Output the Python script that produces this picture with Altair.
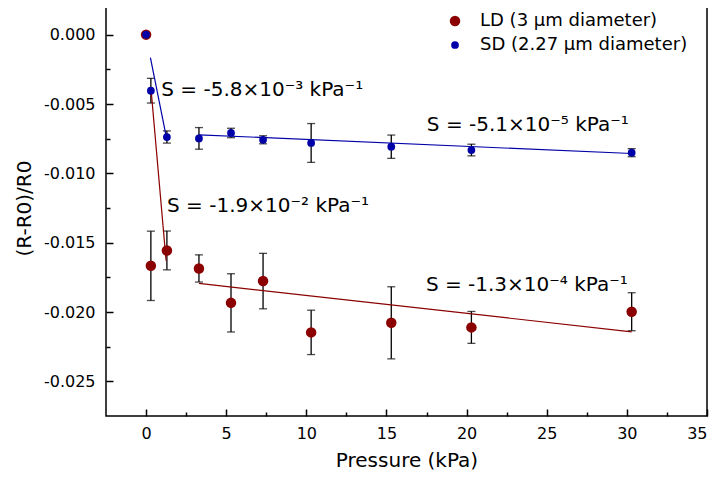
import altair as alt
import pandas as pd

# ---- data ----
pressure = [0, 0.3, 1.3, 3.3, 5.3, 7.3, 10.3, 15.3, 20.3, 30.3]
ld_val = [0, -0.01667, -0.01556, -0.01686, -0.01934, -0.01777, -0.02147, -0.02078, -0.02111, -0.01998]
ld_err = [0, 0.0025, 0.0014, 0.00098, 0.0021, 0.0020, 0.0016, 0.0026, 0.00115, 0.00137]
sd_val = [0, -0.00404, -0.00738, -0.00748, -0.00709, -0.00758, -0.00781, -0.00808, -0.00832, -0.00851]
sd_err = [0, 0.00089, 0.00044, 0.00078, 0.00034, 0.00029, 0.0014, 0.00084, 0.00042, 0.00029]

series_names = ["LD (3 µm diameter)", "SD (2.27 µm diameter)"]

# fit line endpoints (segment 1 and segment 2 for each series)
ld_fit_x = [[0.3, 1.25], [3.3, 30.3]]
ld_fit_y = [[-0.0038, -0.0163], [-0.01794, -0.02143]]
sd_fit_x = [[0.27, 1.25], [3.3, 30.3]]
sd_fit_y = [[-0.00166, -0.0073], [-0.00722, -0.00857]]

ann_text = ["S = -5.8×10⁻³ kPa⁻¹", "S = -5.1×10⁻⁵ kPa⁻¹",
            "S = -1.9×10⁻² kPa⁻¹", "S = -1.3×10⁻⁴ kPa⁻¹"]
ann_x = [0.95, 17.52, 1.31, 17.46]
ann_y = [-0.00442, -0.00693, -0.01281, -0.01847]

x_major = [0, 5, 10, 15, 20, 25, 30, 35]
x_minor = [2.5, 7.5, 12.5, 17.5, 22.5, 27.5, 32.5]
y_major = [0.0, -0.005, -0.010, -0.015, -0.020, -0.025]
y_minor = [-0.0025, -0.0075, -0.0125, -0.0175, -0.0225]

RED = "#8B0000"
BLUE = "#0000A8"
FONT = "DejaVu Sans"

# ---- tables ----
rows = []
for name, vals, errs in [(series_names[0], ld_val, ld_err), (series_names[1], sd_val, sd_err)]:
    for p, v, e in zip(pressure, vals, errs):
        rows.append({"P": p, "V": v, "lo": v - e, "hi": v + e, "series": name})
pts = pd.DataFrame(rows)

def fit_df(xs, ys):
    r = []
    for i, (sx, sy) in enumerate(zip(xs, ys)):
        for a, b in zip(sx, sy):
            r.append({"P": a, "V": b, "seg": i})
    return pd.DataFrame(r)

ld_fit = fit_df(ld_fit_x, ld_fit_y)
sd_fit = fit_df(sd_fit_x, sd_fit_y)
ann = pd.DataFrame({"P": ann_x, "V": ann_y, "label": ann_text})

xs = alt.Scale(domain=[-2.5, 35], nice=False, zero=False)
ys = alt.Scale(domain=[-0.0275, 0.0025], nice=False, zero=False)

label_expr = "replace(format(datum.value, '.3f'), '\u2212', '-')"

x_major_axis = alt.Axis(values=x_major, orient="bottom", offset=-7, tickSize=7, tickWidth=1.5,
                        tickColor="black", domain=False, grid=False, labelPadding=9,
                        labelFont=FONT, labelFontSize=16, labelColor="black",
                        title="Pressure (kPa)", titleFont=FONT, titleFontSize=20,
                        titleFontWeight="normal", titleColor="black", titlePadding=9)
y_major_axis = alt.Axis(values=y_major, orient="left", offset=-7, tickSize=7, tickWidth=1.5,
                        tickColor="black", domain=False, grid=False, labelPadding=11,
                        labelFont=FONT, labelFontSize=16, labelColor="black",
                        labelExpr=label_expr,
                        title="(R-R0)/R0", titleFont=FONT, titleFontSize=20,
                        titleFontWeight="normal", titleColor="black", titlePadding=9)
x_minor_axis = alt.Axis(values=x_minor, orient="bottom", offset=-4, tickSize=4, tickWidth=1.5,
                        tickColor="black", domain=False, grid=False, labels=False, title=None)
y_minor_axis = alt.Axis(values=y_minor, orient="left", offset=-4, tickSize=4, tickWidth=1.5,
                        tickColor="black", domain=False, grid=False, labels=False, title=None)

legend = alt.Legend(orient="none", legendX=340, legendY=12, title=None,
                    labelFont=FONT, labelFontSize=18, labelColor="black", labelLimit=400,
                    labelOffset=16, rowPadding=6, padding=0, symbolType="circle",
                    symbolStrokeWidth=0, symbolOpacity=1)

minor = alt.Chart(pts).mark_point(opacity=0).encode(
    x=alt.X("P:Q", scale=xs, axis=x_minor_axis),
    y=alt.Y("V:Q", scale=ys, axis=y_minor_axis),
)

bars = alt.Chart(pts).mark_rule(color="black", strokeWidth=1.3).encode(
    x=alt.X("P:Q", scale=xs, axis=None),
    y=alt.Y("lo:Q", scale=ys, axis=None),
    y2="hi:Q",
)
cap_lo = alt.Chart(pts).mark_tick(color="black", orient="horizontal", size=8, thickness=1.3).encode(
    x=alt.X("P:Q", scale=xs, axis=None),
    y=alt.Y("lo:Q", scale=ys, axis=None),
)
cap_hi = alt.Chart(pts).mark_tick(color="black", orient="horizontal", size=8, thickness=1.3).encode(
    x=alt.X("P:Q", scale=xs, axis=None),
    y=alt.Y("hi:Q", scale=ys, axis=None),
)

ld_lines = alt.Chart(ld_fit).mark_line(color=RED, strokeWidth=1.2).encode(
    x=alt.X("P:Q", scale=xs, axis=None),
    y=alt.Y("V:Q", scale=ys, axis=None),
    detail="seg:N",
)
sd_lines = alt.Chart(sd_fit).mark_line(color=BLUE, strokeWidth=1.2).encode(
    x=alt.X("P:Q", scale=xs, axis=None),
    y=alt.Y("V:Q", scale=ys, axis=None),
    detail="seg:N",
)

points = alt.Chart(pts).mark_circle(opacity=1).encode(
    x=alt.X("P:Q", scale=xs, axis=x_major_axis),
    y=alt.Y("V:Q", scale=ys, axis=y_major_axis),
    color=alt.Color("series:N", scale=alt.Scale(domain=series_names, range=[RED, BLUE]), legend=legend),
    size=alt.Size("series:N", scale=alt.Scale(domain=series_names, range=[110, 60]), legend=legend),
    order=alt.Order("series:N"),
)

texts = alt.Chart(ann).mark_text(align="left", baseline="alphabetic", font=FONT,
                                 fontSize=20, color="black").encode(
    x=alt.X("P:Q", scale=xs, axis=None),
    y=alt.Y("V:Q", scale=ys, axis=None),
    text="label:N",
)

chart = alt.layer(minor, bars, cap_lo, cap_hi, ld_lines, sd_lines, points, texts).resolve_axis(
    x="independent", y="independent"
).properties(
    width=601, height=416,
    autosize=alt.AutoSizeParams(type="none"),
    padding={"left": 98, "top": -8, "right": 2, "bottom": 55},
).configure_view(
    stroke="black", strokeWidth=1.5
)

chart.save("out.html", embed_options={"renderer": "svg", "actions": False})
